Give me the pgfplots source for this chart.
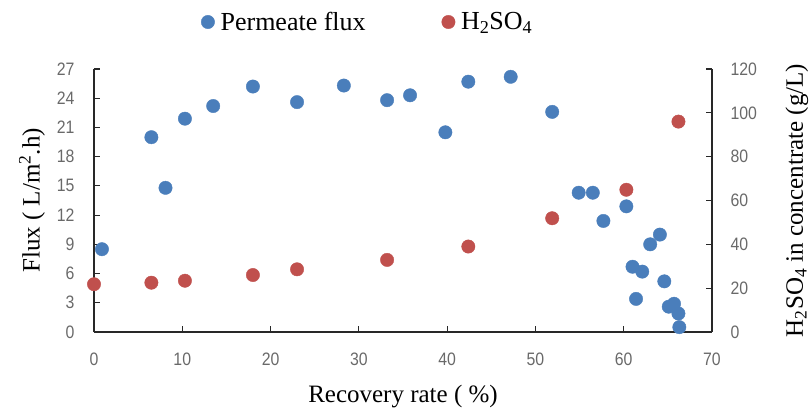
\documentclass[border=0pt]{standalone}
\usepackage{fontspec}
\setmainfont{Liberation Serif}
\newfontfamily\tickfont[FakeStretch=0.88]{Liberation Sans}
\usepackage{pgfplots}
\pgfplotsset{compat=1.18}

\definecolor{fluxblue}{RGB}{74,126,187}
\definecolor{acidred}{RGB}{192,80,77}
\definecolor{tickgray}{RGB}{105,105,105}
\definecolor{axisgray}{RGB}{40,40,40}

\pgfplotsset{
  common/.style={
    width=618pt, height=263pt, scale only axis,
    xmin=0, xmax=70,
    clip=false,
    tick align=inside,
    major tick length=6pt,
    axis line style={axisgray, line width=1.3pt},
    tick style={axisgray, line width=1.1pt},
    ticklabel style={font=\fontsize{18}{18}\tickfont, text=tickgray},
    /pgf/number format/assume math mode=true,
  },
}

\begin{document}
\begin{tikzpicture}
\begin{axis}[
  common,
  axis x line*=bottom, axis y line*=left,
  ymin=0, ymax=27,
  xtick={0,10,...,70},
  ytick={0,3,...,27},
  xticklabel style={yshift=-17pt},
  yticklabel style={xshift=-16pt},
  xlabel={Recovery rate ( \%)},
  ylabel={Flux ( L/m\textsuperscript{2}.h)},
  every axis x label/.style={at={(axis description cs:0.5,0)}, anchor=center,
    yshift=-65pt, font=\fontsize{25}{25}\selectfont},
  every axis y label/.style={at={(axis description cs:0,0.5)}, anchor=center,
    xshift=-62pt, rotate=90, font=\fontsize{25}{25}\selectfont},
  legend columns=2,
  legend style={at={(axis description cs:0.443,1)}, anchor=center, yshift=47pt,
    draw=none, fill=none, font=\fontsize{26}{26}\selectfont,
    /tikz/every odd column/.append style={column sep=4pt},
    /tikz/every even column/.append style={column sep=74pt}},
  extra description/.code={\path (rel axis cs:0,0) ++(-94pt,-79pt) rectangle ++(812pt,411pt);},
]
\addplot[only marks, mark=*, mark size=6.7pt, color=fluxblue] coordinates {
  (0.9,8.5) (6.5,20.0) (8.1,14.8) (10.3,21.9) (13.5,23.2) (18.0,25.2)
  (23.0,23.6) (28.3,25.3) (33.2,23.8) (35.8,24.3) (39.8,20.5) (42.4,25.7)
  (47.2,26.2) (51.9,22.6) (54.9,14.3) (56.5,14.3) (57.7,11.4) (60.3,12.9)
  (61.0,6.7) (61.4,3.4) (62.1,6.2) (63.0,9.0) (64.1,10.0) (64.6,5.2)
  (65.1,2.6) (65.7,2.9) (66.2,1.9) (66.3,0.5)
};
\addlegendentry{Permeate flux}
\addlegendimage{only marks, mark=*, mark size=6.7pt, color=acidred}
\addlegendentry{H\textsubscript{2}SO\textsubscript{4}}
\end{axis}

\begin{axis}[
  common,
  axis x line=none, axis y line*=right,
  ymin=0, ymax=120,
  ytick={0,20,...,120},
  yticklabel style={xshift=15pt},
  ylabel={H\textsubscript{2}SO\textsubscript{4} in concentrate (g/L)},
  every axis y label/.style={at={(axis description cs:1,0.5)}, anchor=center,
    xshift=85pt, rotate=90, font=\fontsize{25}{25}\selectfont},
]
\addplot[only marks, mark=*, mark size=6.7pt, color=acidred] coordinates {
  (0,21.8) (6.5,22.5) (10.3,23.4) (18.0,26.0) (23.0,28.6) (33.2,32.9)
  (42.4,39.0) (51.9,51.9) (60.3,64.9) (66.2,96.0)
};
\end{axis}
\end{tikzpicture}
\end{document}
